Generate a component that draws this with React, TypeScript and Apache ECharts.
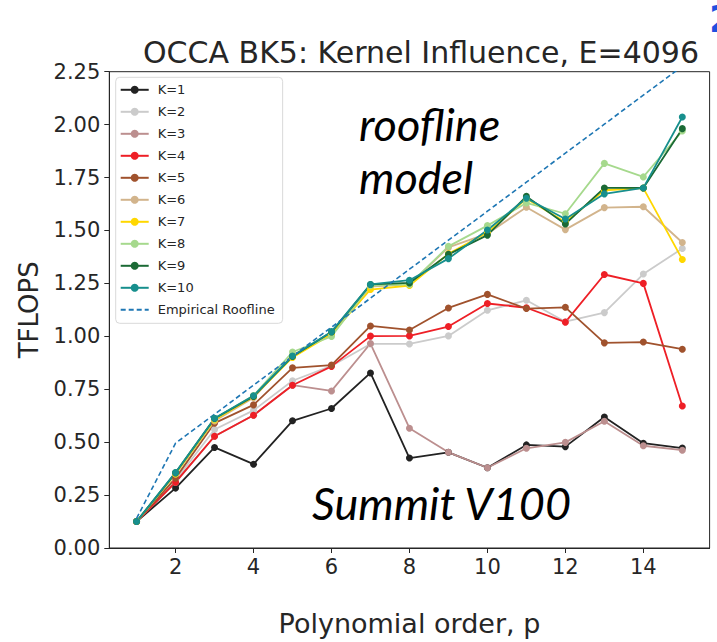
import React, { useEffect, useRef } from "react";
import * as echarts from "echarts";

const P = [1, 2, 3, 4, 5, 6, 7, 8, 9, 10, 11, 12, 13, 14, 15];
const K1 = [0.125, 0.283, 0.475, 0.396, 0.601, 0.659, 0.827, 0.425, 0.452, 0.379, 0.487, 0.479, 0.619, 0.495, 0.472];
const K2 = [0.125, 0.32, 0.56, 0.65, 0.79, 0.86, 0.964, 0.964, 1.002, 1.123, 1.17, 1.069, 1.112, 1.294, 1.415];
const K3 = [0.125, 0.31, 0.528, 0.627, 0.769, 0.742, 0.966, 0.566, 0.452, 0.379, 0.471, 0.499, 0.599, 0.483, 0.462];
const K4 = [0.125, 0.311, 0.528, 0.627, 0.769, 0.858, 1.001, 1.002, 1.046, 1.155, 1.135, 1.067, 1.292, 1.25, 0.671];
const K5 = [0.125, 0.33, 0.59, 0.676, 0.851, 0.864, 1.049, 1.03, 1.134, 1.198, 1.131, 1.137, 0.969, 0.973, 0.939];
const K6 = [0.125, 0.35, 0.6, 0.71, 0.91, 1.01, 1.235, 1.245, 1.42, 1.485, 1.61, 1.504, 1.608, 1.612, 1.443];
const K7 = [0.125, 0.35, 0.605, 0.715, 0.9, 1.01, 1.221, 1.24, 1.39, 1.49, 1.65, 1.54, 1.69, 1.7, 1.363];
const K8 = [0.125, 0.355, 0.61, 0.72, 0.926, 0.999, 1.24, 1.245, 1.425, 1.523, 1.63, 1.579, 1.817, 1.753, 1.97];
const K9 = [0.125, 0.355, 0.612, 0.716, 0.905, 1.02, 1.245, 1.252, 1.387, 1.478, 1.661, 1.531, 1.701, 1.701, 1.981];
const K10 = [0.125, 0.357, 0.613, 0.719, 0.907, 1.022, 1.245, 1.265, 1.367, 1.502, 1.652, 1.554, 1.673, 1.701, 2.036];
const ROOF = [0.14, 0.495, 0.632, 0.769, 0.906, 1.043, 1.18, 1.317, 1.454, 1.591, 1.728, 1.865, 2.002, 2.139, 2.276];

const SERIES_NAMES = ["K=1", "K=2", "K=3", "K=4", "K=5", "K=6", "K=7", "K=8", "K=9", "K=10"];
const SERIES_VALUES = [K1, K2, K3, K4, K5, K6, K7, K8, K9, K10];
const COLORS = ["#222222", "#cbcbcb", "#bc8f8f", "#ee1f26", "#a0522d", "#d2b48c", "#ffd700", "#a6d98d", "#1b6a35", "#178f8d"];
const ROOF_NAME = "Empirical Roofline";
const X_TICKS = [2, 4, 6, 8, 10, 12, 14];

const TXT = "#262626";
const FONT = "DejaVu Sans";

export default function App() {
  const ref = useRef<HTMLDivElement>(null);
  useEffect(() => {
    document.body.style.margin = "0";
    const chart = echarts.init(ref.current!, null, { renderer: "svg" });
    const lines: any[] = SERIES_NAMES.map((name, i) => ({
      name,
      type: "line",
      data: P.map((p, j) => [p, SERIES_VALUES[i][j]]),
      symbol: "circle",
      symbolSize: 7,
      showSymbol: true,
      color: COLORS[i],
      lineStyle: { width: 1.8, color: COLORS[i] },
      itemStyle: { color: COLORS[i] },
    }));
    lines.push({
      name: ROOF_NAME,
      type: "line",
      data: P.map((p, j) => [p, ROOF[j]]),
      symbol: "none",
      showSymbol: false,
      color: "#1f77b4",
      lineStyle: { width: 1.6, color: "#1f77b4", type: [5, 3] },
    });
    chart.setOption({
      animation: false,
      backgroundColor: "#ffffff",
      grid: {
        left: 109.3,
        right: 7.4,
        top: 71.7,
        bottom: 92.7,
        show: true,
        borderColor: TXT,
        borderWidth: 1,
        backgroundColor: "transparent",
      },
      title: {
        text: "OCCA BK5: Kernel Influence, E=4096",
        left: 416,
        top: 32,
        textAlign: "center",
        textStyle: { fontFamily: FONT, fontSize: 30, fontWeight: "normal", color: TXT },
      },
      legend: {
        orient: "vertical",
        left: 115.7,
        top: 77.3,
        padding: [6, 8, 7, 4],
        itemWidth: 28,
        itemHeight: 10,
        itemGap: 9,
        backgroundColor: "#ffffff",
        borderColor: "#d9d9d9",
        borderWidth: 1,
        borderRadius: 4,
        textStyle: { fontFamily: FONT, fontSize: 13, color: TXT, padding: [0, 0, 0, 4] },
        data: [
          ...SERIES_NAMES,
          { name: ROOF_NAME, itemStyle: { opacity: 0 } },
        ],
      },
      xAxis: {
        type: "value",
        min: 0.3,
        max: 15.7,
        name: "Polynomial order, p",
        nameLocation: "middle",
        nameGap: 62,
        nameTextStyle: { fontFamily: FONT, fontSize: 27, color: TXT },
        axisLine: { show: true, lineStyle: { color: TXT, width: 1 } },
        axisTick: { show: true, length: 5, customValues: X_TICKS, lineStyle: { color: TXT } },
        axisLabel: { customValues: X_TICKS, fontFamily: FONT, fontSize: 21, color: TXT, margin: 8 },
        splitLine: { show: false },
      },
      yAxis: {
        type: "value",
        min: 0,
        max: 2.25,
        interval: 0.25,
        name: "TFLOPS",
        nameLocation: "middle",
        nameGap: 67,
        nameTextStyle: { fontFamily: FONT, fontSize: 26, color: TXT },
        axisLine: { show: true, lineStyle: { color: TXT, width: 1 } },
        axisTick: { show: true, length: 5, lineStyle: { color: TXT } },
        axisLabel: {
          fontFamily: FONT,
          fontSize: 21,
          color: TXT,
          margin: 9,
          formatter: (v: number) => v.toFixed(2),
        },
        splitLine: { show: false },
      },
      graphic: [
        {
          type: "text",
          left: 359,
          top: 101,
          style: { text: "roofline", font: "italic 45px Lato", fill: "#000" },
        },
        {
          type: "text",
          left: 359,
          top: 154,
          style: { text: "model", font: "italic 45px Lato", fill: "#000" },
        },
        {
          type: "text",
          left: 312,
          top: 480,
          style: { text: "Summit V100", font: "italic 45px Lato", fill: "#000" },
        },
        {
          type: "text",
          left: 709,
          top: 0,
          style: { text: "2", font: "bold 38px 'DejaVu Sans'", fill: "#1f4fe0" },
        },
      ],
      series: lines,
    });
    return () => chart.dispose();
  }, []);
  return <div ref={ref} style={{ width: 717, height: 642 }} />;
}
